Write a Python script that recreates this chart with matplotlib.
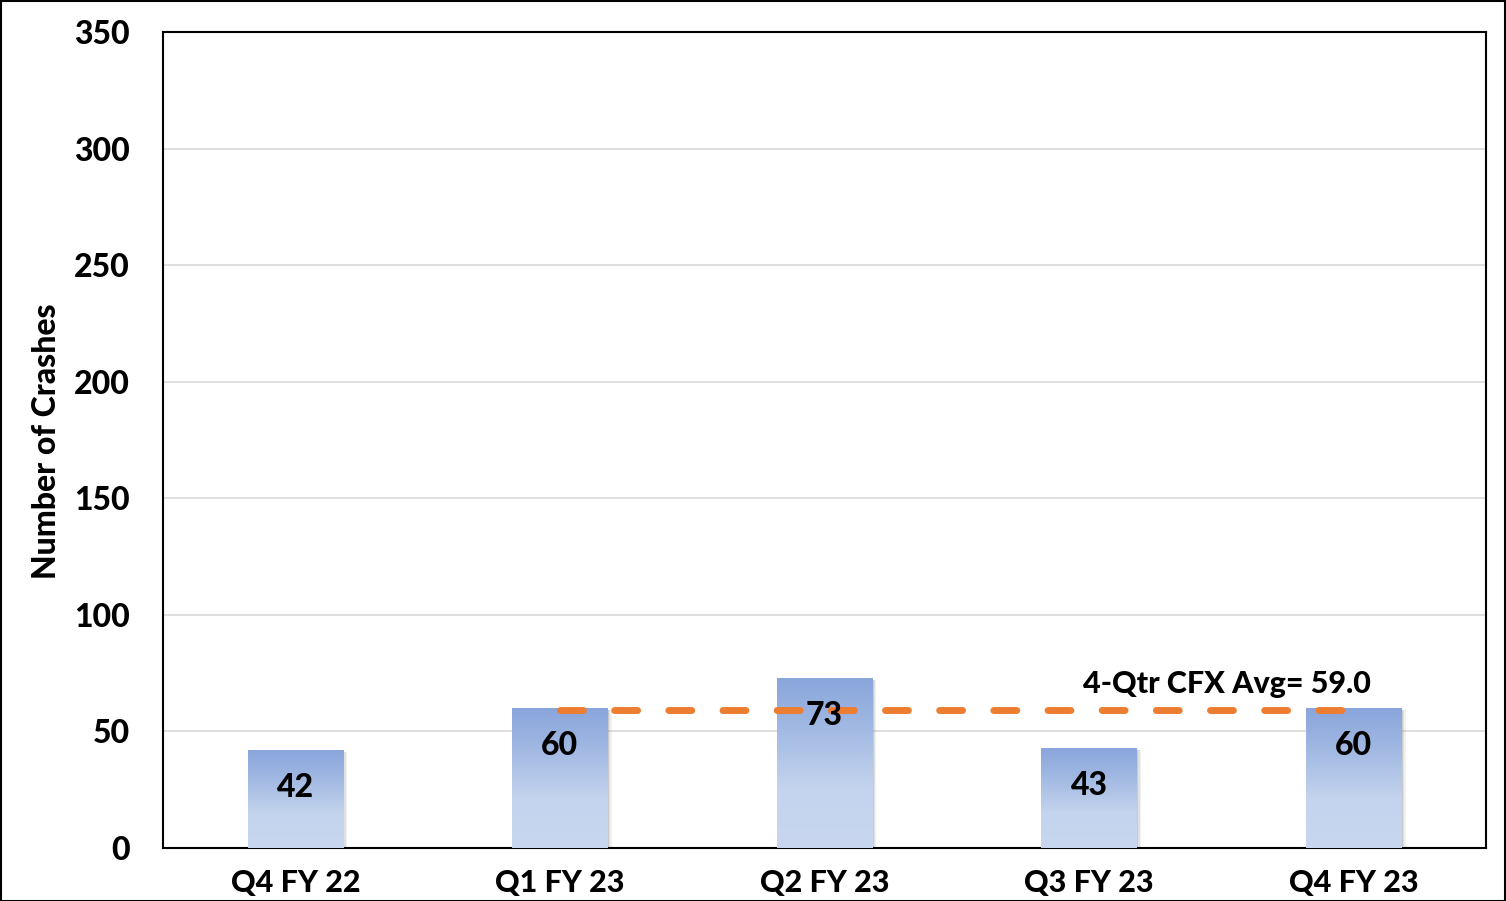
import matplotlib.pyplot as plt
import numpy as np
from matplotlib.colors import LinearSegmentedColormap
from matplotlib.patches import Rectangle

plt.rcParams['font.family'] = ['Lato', 'DejaVu Sans']
W = 900  # heavy weight, closer to the original Calibri Bold look

# data
quarters = ['Q4 FY 22', 'Q1 FY 23', 'Q2 FY 23', 'Q3 FY 23', 'Q4 FY 23']
crashes = [42, 60, 73, 43, 60]
avg_value = 59.0
avg_label = '4-Qtr CFX Avg= 59.0'

fig = plt.figure(figsize=(15.06, 9.01), dpi=100)
ax = fig.add_axes([0.1082, 0.0588, 0.8785, 0.9057])

x = np.arange(len(quarters))
width = 0.36

# bar gradient (dark blue at top, pale at bottom)
cmap = LinearSegmentedColormap.from_list('bars', [
    (0.0, '#C8D7EF'), (0.35, '#C4D4EE'), (0.75, '#9DB5E1'), (1.0, '#89A5DB')])
grad = np.linspace(0, 1, 256).reshape(-1, 1)

bars = ax.bar(x, crashes, width=width, color='none', edgecolor='none', zorder=3)
for b in bars:
    x0, w, h = b.get_x(), b.get_width(), b.get_height()
    # soft shadow on the right
    for k, a in zip([0.016, 0.011, 0.006], [0.10, 0.15, 0.22]):
        ax.add_patch(Rectangle((x0 + k, 0), w, h - 1, color='#7F7F7F',
                               alpha=a, lw=0, zorder=2))
    im = ax.imshow(grad, cmap=cmap, origin='lower', aspect='auto',
                   extent=[x0, x0 + w, 0, h], zorder=3)
    im.set_clip_path(b)

# 4-quarter average line
ax.plot([1, 4], [avg_value, avg_value], color='#ED7D31', lw=5,
        dashes=(3.3, 4.5), dash_capstyle='round', zorder=4)
ax.text(3.52, 70.5, avg_label, ha='center', va='center', fontsize=22,
        fontweight=W, zorder=6)

# value labels
for xi, v in zip(x, crashes):
    ax.annotate(f'{v}', (xi, v), xytext=(0, -27), textcoords='offset points',
                ha='center', va='center', fontsize=23, fontweight=W, zorder=6)

ax.set_xlim(-0.5, 4.5)
ax.set_ylim(0, 350)
ax.set_yticks(np.arange(0, 351, 50))
ax.set_xticks(x, quarters)
ax.tick_params(axis='y', length=0, labelsize=23, pad=24)
ax.tick_params(axis='x', length=0, labelsize=22, pad=15)
for lab in ax.get_xticklabels() + ax.get_yticklabels():
    lab.set_fontweight(W)
ax.yaxis.grid(True, color='#D9D9D9', lw=1.2)
ax.set_axisbelow(True)
for s in ax.spines.values():
    s.set_color('black')
    s.set_linewidth(1.5)

fig.text(0.031, 0.51, 'Number of Crashes', rotation=90, ha='center',
         va='center', fontsize=23, fontweight=W)

# outer frame
fig.patches.append(Rectangle((0.0005, 0.0005), 0.999, 0.9985, transform=fig.transFigure,
                             fill=False, edgecolor='black', lw=1.5))

plt.savefig('out.png', dpi=100)
